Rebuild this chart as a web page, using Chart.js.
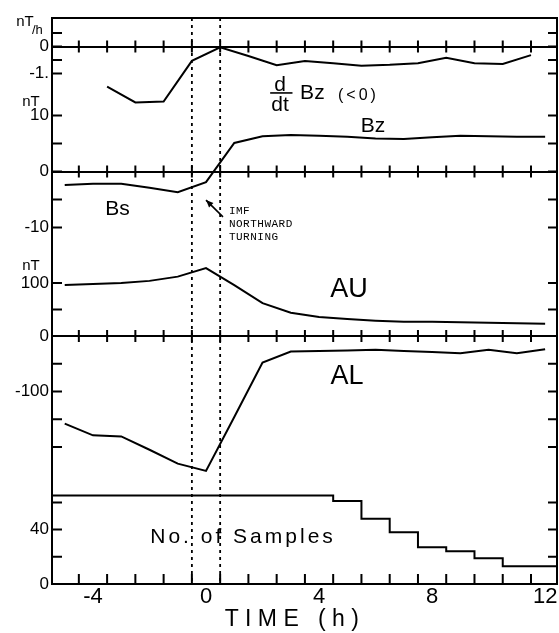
<!DOCTYPE html>
<html>
<head>
<meta charset="utf-8">
<script src="https://cdn.jsdelivr.net/npm/chart.js@4.4.1/dist/chart.umd.min.js"></script>
<style>
  html, body { margin: 0; padding: 0; background: #ffffff; }
  canvas { display: block; }
</style>
</head>
<body>
<canvas id="c" width="559" height="633"></canvas>
<script>
// ---------------- data ----------------
const hours = [-5, -4, -3, -2, -1, 0, 1, 2, 3, 4, 5, 6, 7, 8, 9, 10, 11, 12];
const dbzTimes = [-3.5, -2.5, -1.5, -0.5, 0.5, 1.5, 2.5, 3.5, 4.5, 5.5, 6.5, 7.5, 8.5, 9.5, 10.5, 11.5];
const dbzValues = [-1.49, -2.07, -2.04, -0.53, -0.03, -0.35, -0.69, -0.54, -0.62, -0.71, -0.68, -0.62, -0.42, -0.62, -0.65, -0.32];
const bzValues = [-2.4, -2.2, -2.2, -2.9, -3.7, -1.9, 5.1, 6.3, 6.5, 6.4, 6.2, 5.9, 5.8, 6.1, 6.4, 6.3, 6.2, 6.2];
const auValues = [96, 98, 100, 104, 112, 128, 96, 62, 44, 36, 32, 29, 27, 27, 26, 25, 24, 23];
const alValues = [-158, -179, -181, -205, -230, -243, -146, -48, -28, -27, -26, -25, -27, -29, -31, -25, -31, -24];
const sampleCounts = [65, 65, 65, 65, 65, 65, 65, 65, 65, 65, 61, 48, 38, 27, 24, 19, 13, 13];

const xTickValues = [-4, 0, 4, 8, 12];
const xMarkTimes = [-4.5, -3.5, -2.5, -1.5, -0.5, 0.5, 1.5, 2.5, 3.5, 4.5, 5.5, 6.5, 7.5, 8.5, 9.5, 10.5, 11.5];
const turningBounds = [-0.5, 0.5];

const p1TickValues = [0.5, 0, -0.5, -1];
const p1TickLabels = ['', '0', '', '-1.'];
const bzTickValues = [10, 5, 0, -5, -10];
const bzTickLabels = ['10', '', '0', '', '-10'];
const auTickValues = [100, 50, 0];
const auTickLabels = ['100', '', '0'];
const alTickValues = [0, -50, -100, -150, -200];
const alTickLabels = ['', '', '-100', '', ''];
const smpTickValues = [60, 40, 20, 0];
const smpTickLabels = ['', '40', '', '0'];

// ---------------- styling ----------------
const FONT = '"Liberation Sans", Arial, sans-serif';
const MONO = '"Liberation Mono", "DejaVu Sans Mono", monospace';
const INK = '#000000';

function pts(xs, ys) { return xs.map((x, i) => ({ x: x, y: ys[i] })); }
// sample counts are per-hour bins (h-0.5 .. h+0.5): build bin edges
const sampleSteps = hours.map((h, i) => ({ x: h - 0.5, y: sampleCounts[i] }))
  .concat([{ x: hours[hours.length - 1] + 0.5, y: sampleCounts[sampleCounts.length - 1] }]);

function yScale(order, height, min, max, tickVals, tickLabels) {
  return {
    type: 'linear',
    position: 'left',
    stack: 'panels',
    stackWeight: height,
    weight: order,
    min: min,
    max: max,
    afterBuildTicks: s => { s.ticks = tickVals.map(v => ({ value: v })); },
    afterFit: s => { s.width = 52; },
    ticks: {
      autoSkip: false,
      padding: 3,
      color: INK,
      font: { family: FONT, size: 17 },
      callback: (v, i) => tickLabels[i]
    },
    grid: {
      drawTicks: false,
      lineWidth: 2,
      color: c => (c.tick && c.tick.value === 0) ? INK : 'rgba(0,0,0,0)'
    },
    border: { display: true, color: INK, width: 2 }
  };
}

const lineStyle = { borderColor: INK, borderWidth: 2, pointRadius: 0, tension: 0, fill: false };

const decor = {
  id: 'decor',
  afterDraw(chart) {
    const { ctx, chartArea: a, scales } = chart;
    const xs = scales.x;
    const X = v => xs.getPixelForValue(v);
    const Y = (id, v) => scales[id].getPixelForValue(v);
    ctx.save();
    ctx.strokeStyle = INK;
    ctx.fillStyle = INK;
    ctx.lineCap = 'butt';

    // top and right frame
    ctx.lineWidth = 2;
    ctx.beginPath();
    ctx.moveTo(a.left - 1, a.top);
    ctx.lineTo(a.right, a.top);
    ctx.lineTo(a.right, a.bottom + 1);
    ctx.stroke();

    // inward y tick marks on both sides
    ctx.beginPath();
    for (const id of ['yP1', 'yBz', 'yAU', 'yAL', 'ySmp']) {
      const s = scales[id];
      for (const t of s.ticks) {
        const py = s.getPixelForValue(t.value);
        ctx.moveTo(a.left, py); ctx.lineTo(a.left + 10, py);
        ctx.moveTo(a.right, py); ctx.lineTo(a.right - 9, py);
      }
    }
    // half-hour marks crossing each zero line
    for (const id of ['yP1', 'yBz', 'yAU']) {
      const py = Y(id, 0);
      for (const t of xMarkTimes) {
        const px = X(t);
        ctx.moveTo(px, py - 6); ctx.lineTo(px, py + 6);
      }
    }
    // half-hour marks on the time axis
    for (const t of xMarkTimes) {
      const px = X(t);
      ctx.moveTo(px, a.bottom); ctx.lineTo(px, a.bottom - 10);
    }
    ctx.stroke();

    // dotted lines bracketing the northward turning
    ctx.lineWidth = 1.8;
    ctx.setLineDash([3, 4]);
    ctx.beginPath();
    for (const t of turningBounds) {
      ctx.moveTo(X(t), a.top);
      ctx.lineTo(X(t), a.bottom);
    }
    ctx.stroke();
    ctx.setLineDash([]);

    function txt(s, x, y, size, opt) {
      opt = opt || {};
      ctx.font = (opt.weight || 'normal') + ' ' + size + 'px ' + (opt.family || FONT);
      ctx.textAlign = opt.align || 'center';
      ctx.textBaseline = 'middle';
      if ('letterSpacing' in ctx) ctx.letterSpacing = (opt.spacing || 0) + 'px';
      ctx.fillText(s, x, y);
      if ('letterSpacing' in ctx) ctx.letterSpacing = '0px';
    }

    // unit labels
    txt('nT', a.left - 27, Y('yP1', 0.91), 15);
    txt('/h', a.left - 20, Y('yP1', 0.6), 13, { align: 'left' });
    txt('nT', a.left - 21, Y('yBz', 12.4), 15);
    txt('nT', a.left - 21, Y('yAU', 132), 15);

    // d/dt Bz (<0)
    txt('d', X(2.62), Y('yP1', -1.43), 21);
    ctx.lineWidth = 1.6;
    ctx.beginPath();
    ctx.moveTo(X(2.27), Y('yP1', -1.72));
    ctx.lineTo(X(3.06), Y('yP1', -1.72));
    ctx.stroke();
    txt('dt', X(2.62), Y('yP1', -2.17), 21);
    txt('Bz', X(3.33), Y('yP1', -1.72), 21, { align: 'left' });
    txt('(<0)', X(4.67), Y('yP1', -1.8), 16, { align: 'left', spacing: 3 });

    txt('Bz', X(5.91), Y('yBz', 8.1), 21);
    txt('Bs', X(-3.13), Y('yBz', -6.8), 21);

    // IMF northward turning note and arrow
    txt('IMF', X(0.81), Y('yBz', -7.05), 11, { align: 'left', family: MONO, spacing: 0.5 });
    txt('NORTHWARD', X(0.81), Y('yBz', -9.38), 11, { align: 'left', family: MONO, spacing: 0.5 });
    txt('TURNING', X(0.81), Y('yBz', -11.7), 11, { align: 'left', family: MONO, spacing: 0.5 });
    const tx = X(0.6), ty = Y('yBz', -8.1), hx = X(0.0), hy = Y('yBz', -5.1);
    ctx.lineWidth = 1.6;
    ctx.beginPath();
    ctx.moveTo(tx, ty); ctx.lineTo(hx, hy);
    ctx.stroke();
    const ang = Math.atan2(hy - ty, hx - tx);
    ctx.beginPath();
    ctx.moveTo(hx, hy);
    ctx.lineTo(hx - 8 * Math.cos(ang - 0.4), hy - 8 * Math.sin(ang - 0.4));
    ctx.lineTo(hx - 8 * Math.cos(ang + 0.4), hy - 8 * Math.sin(ang + 0.4));
    ctx.closePath();
    ctx.fill();

    txt('AU', X(5.06), Y('yAU', 86.8), 27);
    txt('AL', X(4.99), Y('yAL', -73.9), 27);
    txt('No. of Samples', X(1.31), Y('ySmp', 34.6), 21, { spacing: 3 });

    ctx.restore();
  }
};

new Chart(document.getElementById('c'), {
  type: 'line',
  data: {
    datasets: [
      Object.assign({ label: 'dBz/dt', data: pts(dbzTimes, dbzValues), yAxisID: 'yP1', xAxisID: 'x', clip: false }, lineStyle),
      Object.assign({ label: 'Bz', data: pts(hours, bzValues), yAxisID: 'yBz', xAxisID: 'x', clip: false }, lineStyle),
      Object.assign({ label: 'AU', data: pts(hours, auValues), yAxisID: 'yAU', xAxisID: 'x', clip: false }, lineStyle),
      Object.assign({ label: 'AL', data: pts(hours, alValues), yAxisID: 'yAL', xAxisID: 'x', clip: false }, lineStyle),
      Object.assign({ label: 'No. of Samples', data: sampleSteps, yAxisID: 'ySmp', xAxisID: 'x', stepped: 'before' }, lineStyle)
    ]
  },
  options: {
    responsive: false,
    animation: false,
    devicePixelRatio: 1,
    layout: { autoPadding: false, padding: { top: 18, left: 0, right: 2, bottom: 0 } },
    plugins: { legend: { display: false }, tooltip: { enabled: false } },
    scales: {
      x: {
        type: 'linear',
        position: 'bottom',
        min: -5.45,
        max: 12.42,
        afterBuildTicks: s => { s.ticks = xTickValues.map(v => ({ value: v })); },
        afterFit: s => { s.height = 49; },
        ticks: {
          autoSkip: false,
          maxRotation: 0,
          padding: 0,
          color: INK,
          font: { family: FONT, size: 22 },
          callback: v => String(v)
        },
        grid: { drawOnChartArea: false, drawTicks: false },
        border: { display: true, color: INK, width: 2 },
        title: {
          display: true,
          text: 'T I M E   ( h )    ',
          color: INK,
          font: { family: FONT, size: 23 },
          padding: { top: 0, bottom: 0 }
        }
      },
      yP1: yScale(5, 72, -1.611, 1.0556, p1TickValues, p1TickLabels),
      yBz: yScale(4, 160, -14.018, 14.554, bzTickValues, bzTickLabels),
      yAU: yScale(3, 86, 0, 162.264, auTickValues, auTickLabels),
      yAL: yScale(2, 144, -259.459, 0, alTickValues, alTickLabels),
      ySmp: yScale(1, 104, 0, 76.47, smpTickValues, smpTickLabels)
    }
  },
  plugins: [decor]
});
</script>
</body>
</html>
